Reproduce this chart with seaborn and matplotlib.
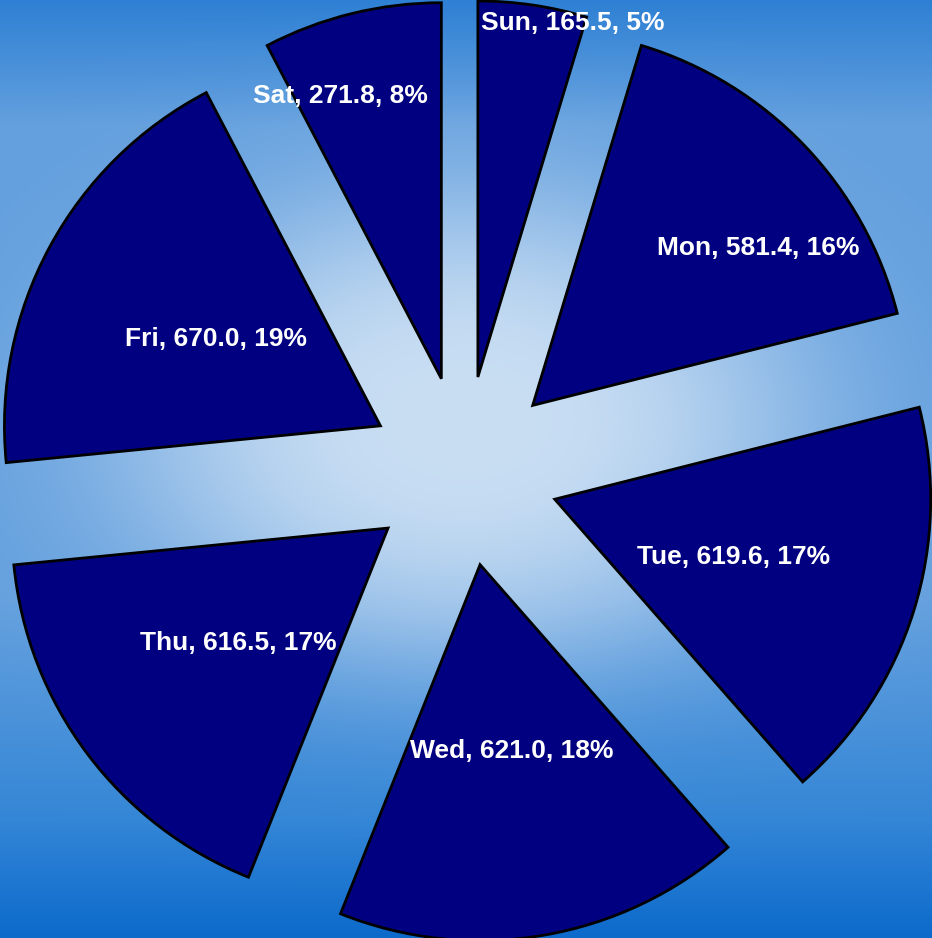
import numpy as np
import matplotlib
matplotlib.use("Agg")
import matplotlib.pyplot as plt
import seaborn as sns

# Weekly totals per day
days = ["Sun", "Mon", "Tue", "Wed", "Thu", "Fri", "Sat"]
totals = [165.5, 581.4, 619.6, 621.0, 616.5, 670.0, 271.8]

# Label placement: (distance from pie centre in radii, angular shift in degrees)
label_place = [(1.234, -5.2), (0.986, -6.3), (0.75, 0.0), (0.75, 0.0),
               (0.75, 0.0), (0.75, 0.0), (1.056, 4.4)]

sns.set_theme(style="white")
plt.rcParams["font.family"] = ["Liberation Sans", "DejaVu Sans"]

W, H, DPI = 932, 938, 100
CX, CY, R_PX = 464, 471, 376          # pie centre and radius in pixels

fig = plt.figure(figsize=(W / DPI, H / DPI), dpi=DPI)
ax = fig.add_axes([0, 0, 1, 1])

x0, x1 = -CX / R_PX, (W - CX) / R_PX
y0, y1 = -(H - CY) / R_PX, CY / R_PX

# Background: vertical blue ramp with a soft pale glow in the middle
yy, xx = np.mgrid[0:H, 0:W].astype(float)
stops_y = [0, 125, 600, 820, H]
stops_c = np.array([[46, 128, 212], [100, 160, 222], [100, 160, 222],
                    [52, 134, 214], [12, 106, 203]], float)
base = np.stack([np.interp(yy, stops_y, stops_c[:, k]) for k in range(3)], -1)
u = (xx - 464) / 466 / 0.74
v = (yy - 420) / 469 / 0.50
w = np.exp(-np.sqrt(u ** 2 + v ** 2) ** 3)[..., None]
glow = np.array([201, 222, 243], float)
bg = (base * (1 - w) + glow * w) / 255.0
ax.imshow(bg, extent=(x0, x1, y0, y1), zorder=0, aspect="auto",
          interpolation="bilinear")

wedges, _ = ax.pie(
    totals, startangle=90, counterclock=False,
    explode=[95 / R_PX] * len(totals),
    colors=["#000080"] * len(totals),
    wedgeprops=dict(edgecolor="black", linewidth=2.0),
    radius=1.0,
)
for wdg in wedges:
    wdg.set_zorder(2)

total = sum(totals)
cap_half = 9.5 / R_PX
for wdg, day, val, (dist, shift) in zip(wedges, days, totals, label_place):
    mid = np.deg2rad((wdg.theta1 + wdg.theta2) / 2 + shift)
    tx, ty = dist * np.cos(mid), dist * np.sin(mid)
    pct = round(100 * val / total)
    ax.text(tx, ty - cap_half, f"{day}, {val:.1f}, {pct}%", color="white",
            fontsize=19, fontweight="bold", ha="center", va="baseline",
            zorder=3)

ax.set_aspect("auto")
ax.set_xlim(x0, x1)
ax.set_ylim(y0, y1)
ax.axis("off")

fig.savefig("out.png", dpi=DPI)
